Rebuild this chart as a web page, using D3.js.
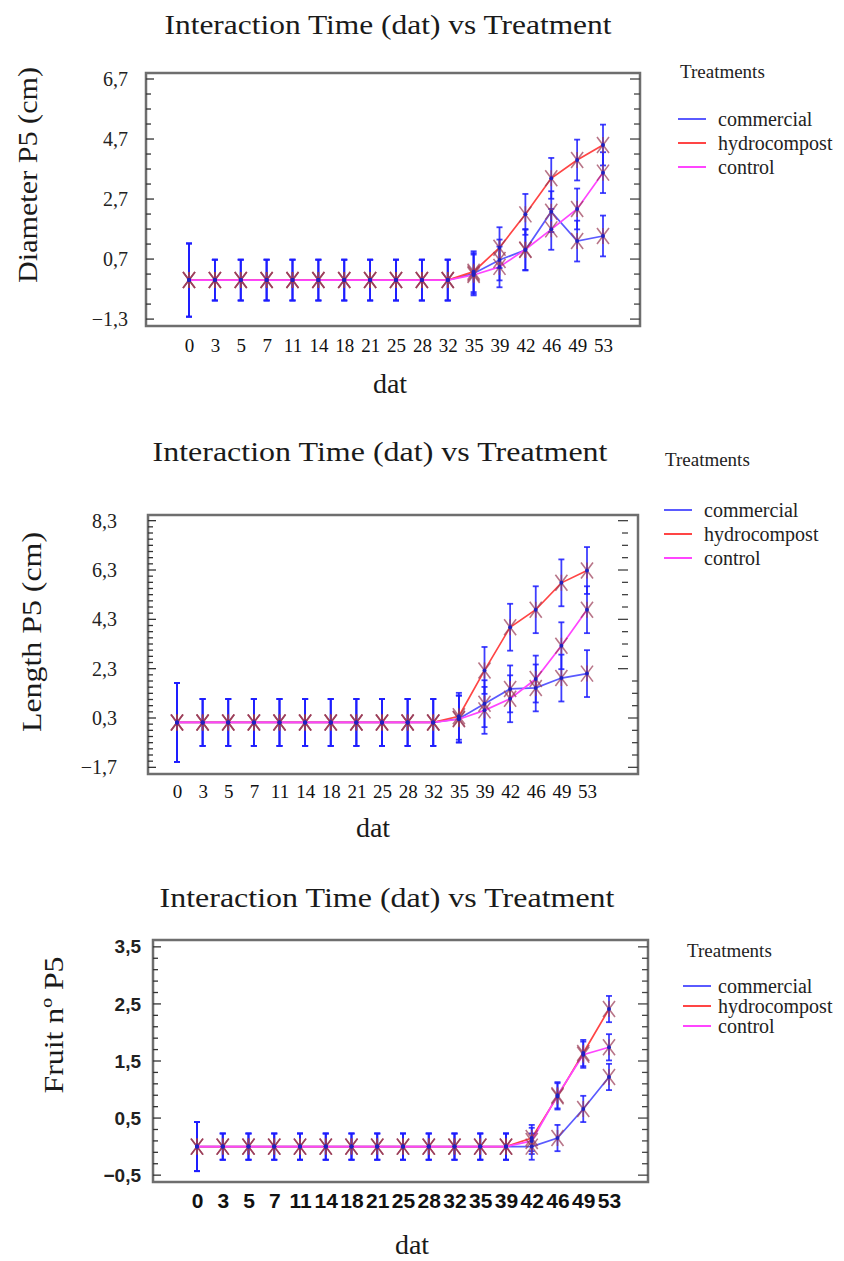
<!DOCTYPE html>
<html>
<head>
<meta charset="utf-8">
<script src="https://cdn.jsdelivr.net/npm/d3@7"></script>
<style>
  body { margin: 0; background: #fff; }
  svg { display: block; }
</style>
</head>
<body>
<div id="chart"></div>
<script>
// days after transplant (categorical axis)
const dat = ["0", "3", "5", "7", "11", "14", "18", "21", "25", "28", "32", "35", "39", "42", "46", "49", "53"];
const treatments = ["commercial", "hydrocompost", "control"];
const treatmentColors = ["#5a5aff", "#ff4545", "#ff45ff"];

// Diameter P5 (cm)
const diameterCommercial   = [0, 0, 0, 0, 0, 0, 0, 0, 0, 0, 0, 0.22, 0.67, 1.0, 2.28, 1.3, 1.47];
const diameterHydrocompost = [0, 0, 0, 0, 0, 0, 0, 0, 0, 0, 0, 0.28, 1.08, 2.19, 3.39, 4.0, 4.5];
const diameterControl      = [0, 0, 0, 0, 0, 0, 0, 0, 0, 0, 0, 0.17, 0.44, 1.02, 1.69, 2.37, 3.58];
const diameterError        = [1.22, 0.68, 0.68, 0.68, 0.68, 0.68, 0.68, 0.68, 0.68, 0.68, 0.68, 0.68, 0.68, 0.68, 0.68, 0.68, 0.68];
const diameterTicks = [-1.3, 0.7, 2.7, 4.7, 6.7];

// Length P5 (cm)
const lengthCommercial   = [0.12, 0.12, 0.12, 0.12, 0.12, 0.12, 0.12, 0.12, 0.12, 0.12, 0.12, 0.27, 0.88, 1.48, 1.52, 1.92, 2.1];
const lengthHydrocompost = [0.12, 0.12, 0.12, 0.12, 0.12, 0.12, 0.12, 0.12, 0.12, 0.12, 0.12, 0.37, 2.23, 3.98, 4.69, 5.78, 6.28];
const lengthControl      = [0.12, 0.12, 0.12, 0.12, 0.12, 0.12, 0.12, 0.12, 0.12, 0.12, 0.12, 0.25, 0.61, 1.08, 1.88, 3.23, 4.69];
const lengthError        = [1.6, 0.95, 0.95, 0.95, 0.95, 0.95, 0.95, 0.95, 0.95, 0.95, 0.95, 0.95, 0.95, 0.95, 0.95, 0.95, 0.95];
const lengthTicks = [-1.7, 0.3, 2.3, 4.3, 6.3, 8.3];

// Fruit nº P5
const fruitCommercial   = [0, 0, 0, 0, 0, 0, 0, 0, 0, 0, 0, 0, 0, 0, 0.15, 0.66, 1.22];
const fruitHydrocompost = [0, 0, 0, 0, 0, 0, 0, 0, 0, 0, 0, 0, 0, 0.15, 0.88, 1.64, 2.41];
const fruitControl      = [0, 0, 0, 0, 0, 0, 0, 0, 0, 0, 0, 0, 0, 0.1, 0.9, 1.61, 1.74];
const fruitError        = [0.43, 0.23, 0.23, 0.23, 0.23, 0.23, 0.23, 0.23, 0.23, 0.23, 0.23, 0.23, 0.23, 0.23, 0.23, 0.23, 0.23];
const fruitTicks = [-0.5, 0.5, 1.5, 2.5, 3.5];

const serif = "'Liberation Serif', 'Times New Roman', Times, serif";
const sans = "'Liberation Sans', Arial, sans-serif";

const commaFormat = v => d3.format(".1f")(v).replace(".", ",");

const svg = d3.select("#chart")
  .append("svg")
  .attr("width", 844)
  .attr("height", 1261);

const panels = [
  {
    title: "Interaction Time (dat) vs Treatment", titleX: 388, titleY: 34, titleLen: 447,
    yLabel: "Diameter P5 (cm)", yLabelX: 37, yLabelY: 175, yLabelLen: 216,
    left: 146, right: 640, top: 73, bottom: 326, x0: 189, x1: 603,
    yDomain: [-1.53, 6.9], ticks: diameterTicks, minorStep: 0.5, rightStep: 0.5,
    tickLabelRight: 128, xTickY: 352, tickFont: serif, xTickSize: 19, yTickSize: 20, tickWeight: 400,
    datX: 390, datY: 393,
    series: [diameterCommercial, diameterHydrocompost, diameterControl], error: diameterError,
    legend: { titleX: 680, titleY: 78, lineX: 678, textX: 718, y0: 119, step: 24 }
  },
  {
    title: "Interaction Time (dat) vs Treatment", titleX: 380, titleY: 461, titleLen: 455,
    yLabel: "Length P5 (cm)", yLabelX: 41, yLabelY: 632, yLabelLen: 200,
    left: 148, right: 638, top: 515, bottom: 774, x0: 177, x1: 587,
    yDomain: [-1.97, 8.53], ticks: lengthTicks, minorStep: 0.25, rightStep: 0.5,
    rightShift: { above: 2.05, dx: -10 },
    tickLabelRight: 117, xTickY: 798, tickFont: serif, xTickSize: 19, yTickSize: 20, tickWeight: 400,
    datX: 373, datY: 837,
    series: [lengthCommercial, lengthHydrocompost, lengthControl], error: lengthError,
    legend: { titleX: 665, titleY: 466, lineX: 664, textX: 704, y0: 510, step: 24 }
  },
  {
    title: "Interaction Time (dat) vs Treatment", titleX: 387, titleY: 907, titleLen: 455,
    yLabel: "Fruit nº P5", yLabelX: 63, yLabelY: 1025, yLabelLen: 137,
    left: 153, right: 648, top: 940, bottom: 1182, x0: 197, x1: 609,
    yDomain: [-0.62, 3.62], ticks: fruitTicks, minorStep: 0.2, rightStep: 0.2,
    tickLabelRight: 141, xTickY: 1208, tickFont: sans, xTickSize: 21, yTickSize: 19, tickWeight: 600,
    datX: 412, datY: 1254,
    series: [fruitCommercial, fruitHydrocompost, fruitControl], error: fruitError,
    legend: { titleX: 687, titleY: 957, lineX: 683, textX: 718, y0: 986, step: 20 }
  }
];

panels.forEach(drawPanel);

function drawPanel(p) {
  const g = svg.append("g");

  const x = d3.scalePoint().domain(dat).range([p.x0, p.x1]);
  const y = d3.scaleLinear().domain(p.yDomain).range([p.bottom, p.top]);
  const isMajor = v => p.ticks.some(t => Math.abs(t - v) < 1e-6);

  // title
  g.append("text")
    .attr("x", p.titleX)
    .attr("y", p.titleY)
    .attr("text-anchor", "middle")
    .attr("font-family", serif)
    .attr("font-size", 28)
    .attr("fill", "#1a1a1a")
    .attr("textLength", p.titleLen)
    .attr("lengthAdjust", "spacingAndGlyphs")
    .text(p.title);

  // y axis title
  g.append("text")
    .attr("transform", `translate(${p.yLabelX},${p.yLabelY}) rotate(-90)`)
    .attr("text-anchor", "middle")
    .attr("font-family", serif)
    .attr("font-size", 28)
    .attr("fill", "#1a1a1a")
    .attr("textLength", p.yLabelLen)
    .attr("lengthAdjust", "spacingAndGlyphs")
    .text(p.yLabel);

  // x axis title
  g.append("text")
    .attr("x", p.datX)
    .attr("y", p.datY)
    .attr("text-anchor", "middle")
    .attr("font-family", serif)
    .attr("font-size", 28)
    .attr("fill", "#1a1a1a")
    .text("dat");

  // frame
  g.append("rect")
    .attr("x", p.left)
    .attr("y", p.top)
    .attr("width", p.right - p.left)
    .attr("height", p.bottom - p.top)
    .attr("fill", "none")
    .attr("stroke", "#6e6e6e")
    .attr("stroke-width", 2.5);

  // inner ticks, left side
  const leftTicks = d3.range(p.ticks[0], p.yDomain[1], p.minorStep);
  g.append("g")
    .selectAll("line")
    .data(leftTicks)
    .join("line")
    .attr("x1", p.left)
    .attr("x2", d => p.left + (isMajor(d) ? 8 : 5))
    .attr("y1", d => y(d))
    .attr("y2", d => y(d))
    .attr("stroke", "#333")
    .attr("stroke-width", 1.3);

  // inner ticks, right side (panel 2 has the upper part of them misplaced)
  const rightTicks = d3.range(p.ticks[0], p.yDomain[1], p.rightStep);
  const rightEdge = d => (p.rightShift && d > p.rightShift.above) ? p.right + p.rightShift.dx : p.right;
  g.append("g")
    .selectAll("line")
    .data(rightTicks)
    .join("line")
    .attr("x1", d => rightEdge(d))
    .attr("x2", d => rightEdge(d) - (isMajor(d) ? 10 : 6))
    .attr("y1", d => y(d))
    .attr("y2", d => y(d))
    .attr("stroke", "#444")
    .attr("stroke-width", 1.3);

  // y tick labels
  g.append("g")
    .attr("transform", `translate(${p.tickLabelRight},0)`)
    .call(d3.axisLeft(y).tickValues(p.ticks).tickFormat(commaFormat).tickSize(0).tickPadding(0))
    .call(a => a.select(".domain").remove())
    .selectAll("text")
    .attr("font-family", p.tickFont)
    .attr("font-size", p.yTickSize)
    .attr("font-weight", p.tickWeight)
    .attr("fill", "#222");

  // x tick labels
  g.append("g")
    .attr("transform", `translate(0,${p.xTickY})`)
    .call(d3.axisBottom(x).tickSize(0).tickPadding(0))
    .call(a => a.select(".domain").remove())
    .selectAll("text")
    .attr("dy", 0)
    .attr("font-family", p.tickFont)
    .attr("font-size", p.xTickSize)
    .attr("font-weight", p.tickWeight)
    .attr("fill", "#111");

  // lines
  const line = d3.line()
    .x((d, i) => x(dat[i]))
    .y(d => y(d));

  g.append("g")
    .selectAll("path")
    .data(p.series)
    .join("path")
    .attr("d", line)
    .attr("fill", "none")
    .attr("stroke", (d, i) => treatmentColors[i])
    .attr("stroke-width", 1.7);

  // error bars (one per treatment and time)
  const bars = [];
  p.series.forEach(s => s.forEach((v, i) => bars.push({ key: dat[i], v, e: p.error[i] })));

  const barG = g.append("g")
    .attr("stroke", "#1c1cff")
    .attr("stroke-width", 1.8)
    .attr("stroke-opacity", 0.85);

  barG.selectAll("line.bar")
    .data(bars)
    .join("line")
    .attr("class", "bar")
    .attr("x1", d => x(d.key))
    .attr("x2", d => x(d.key))
    .attr("y1", d => y(d.v - d.e))
    .attr("y2", d => y(d.v + d.e));

  barG.selectAll("line.cap-top")
    .data(bars)
    .join("line")
    .attr("class", "cap-top")
    .attr("x1", d => x(d.key) - 3)
    .attr("x2", d => x(d.key) + 3)
    .attr("y1", d => y(d.v + d.e))
    .attr("y2", d => y(d.v + d.e));

  barG.selectAll("line.cap-bottom")
    .data(bars)
    .join("line")
    .attr("class", "cap-bottom")
    .attr("x1", d => x(d.key) - 3)
    .attr("x2", d => x(d.key) + 3)
    .attr("y1", d => y(d.v - d.e))
    .attr("y2", d => y(d.v - d.e));

  // asterisk markers
  const star = "M-6,-8L6,8M-6,8L6,-8M0,-8L0,8";
  g.append("g")
    .selectAll("path")
    .data(bars)
    .join("path")
    .attr("transform", d => `translate(${x(d.key)},${y(d.v)})`)
    .attr("d", star)
    .attr("fill", "none")
    .attr("stroke", "#9a3a55")
    .attr("stroke-opacity", 0.7)
    .attr("stroke-width", 1.6);

  g.append("g")
    .selectAll("circle")
    .data(bars)
    .join("circle")
    .attr("cx", d => x(d.key))
    .attr("cy", d => y(d.v))
    .attr("r", 2)
    .attr("fill", "#2020c0");

  // legend
  const lg = p.legend;
  g.append("text")
    .attr("x", lg.titleX)
    .attr("y", lg.titleY)
    .attr("font-family", serif)
    .attr("font-size", 19)
    .attr("fill", "#222")
    .text("Treatments");

  const items = g.append("g")
    .selectAll("g")
    .data(treatments)
    .join("g")
    .attr("transform", (d, i) => `translate(0,${lg.y0 + i * lg.step})`);

  items.append("line")
    .attr("x1", lg.lineX)
    .attr("x2", lg.lineX + 28)
    .attr("stroke", (d, i) => treatmentColors[i])
    .attr("stroke-width", 2);

  items.append("text")
    .attr("x", lg.textX)
    .attr("y", 7)
    .attr("font-family", serif)
    .attr("font-size", 20)
    .attr("fill", "#222")
    .text(d => d);
}
</script>
</body>
</html>
